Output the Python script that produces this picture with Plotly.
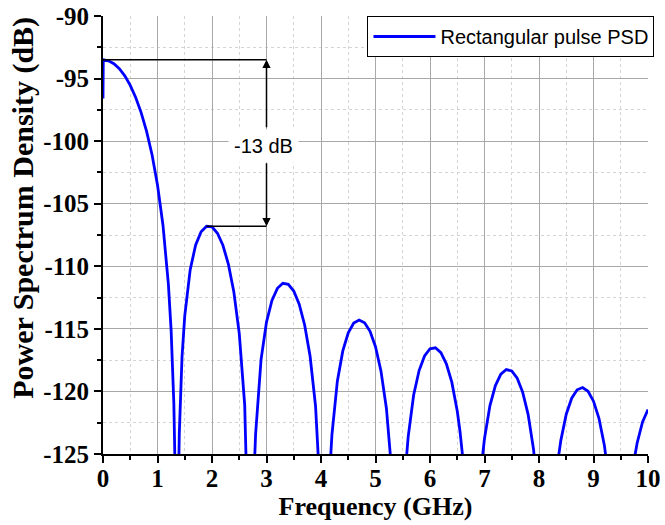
import plotly.graph_objects as go

# Frequency samples (GHz) and PSD values (dB)
freq_ghz = [
    0, 0.005, 0.1, 0.2, 0.3, 0.4, 0.5, 0.6, 0.7, 0.8, 0.9, 1.0, 1.1, 1.15, 1.2, 1.25, 1.3,
    1.33, 1.355, 1.38, 1.4, 1.45, 1.5, 1.6, 1.7, 1.8, 1.9, 2.0, 2.1, 2.2, 2.3, 2.4, 2.5, 2.6,
    2.65, 2.71, 2.77, 2.8, 2.9, 3.0, 3.1, 3.2, 3.3, 3.4, 3.5, 3.6, 3.7, 3.8, 3.9, 3.95, 4.0,
    4.065, 4.1, 4.15, 4.2, 4.3, 4.4, 4.5, 4.6, 4.7, 4.8, 4.9, 5.0, 5.1, 5.2, 5.25, 5.3,
    5.42, 5.5, 5.55, 5.6, 5.7, 5.8, 5.9, 6.0, 6.1, 6.2, 6.3, 6.4, 6.5, 6.55, 6.6, 6.7,
    6.775, 6.85, 6.9, 6.95, 7.0, 7.1, 7.2, 7.3, 7.4, 7.5, 7.6, 7.7, 7.8, 7.9, 8.0,
    8.13, 8.25, 8.3, 8.35, 8.4, 8.5, 8.6, 8.7, 8.8, 8.9, 9.0, 9.1, 9.2, 9.3, 9.4,
    9.485, 9.6, 9.7, 9.75, 9.8, 9.9, 10.0,
]
psd_db = [
    -96.6, -93.5, -93.58, -93.81, -94.21, -94.78, -95.54, -96.51, -97.72, -99.22, -101.09,
    -103.50, -106.70, -108.80, -111.45, -115.12, -120.99,
    -128.0, -140.0, -128.35, -123.37, -117.25, -113.96, -110.27, -108.30, -107.24, -106.80,
    -106.85, -107.36, -108.32, -109.82, -112.03, -115.36, -121.07,
    -126.43, -140.0, -126.82, -123.42, -117.46, -114.46, -112.73, -111.76, -111.36, -111.44,
    -111.98, -113.03, -114.69, -117.19, -121.18, -124.32, -129.31,
    -140.0, -134.9, -127.33, -123.50, -119.18, -116.76, -115.32, -114.54, -114.29, -114.51,
    -115.20, -116.43, -118.36, -121.34, -123.52, -126.51,
    -140.0, -130.30, -126.24, -123.61, -120.29, -118.33, -117.16, -116.59, -116.51, -116.90,
    -117.79, -119.26, -121.56, -123.17, -125.25, -132.56,
    -140.0, -132.77, -128.46, -125.72, -123.76, -121.13, -119.53, -118.62, -118.25, -118.36,
    -118.94, -120.05, -121.83, -124.63, -129.41,
    -140.0, -130.36, -127.50, -125.47, -123.93, -121.82, -120.54, -119.87, -119.69, -119.99,
    -120.78, -122.15, -124.31, -127.77, -134.41,
    -140.0, -132.04, -126.95, -125.37, -124.14, -122.44, -121.44,
]

series_name = "Rectangular pulse PSD"
x_title = "Frequency (GHz)"
y_title = "Power Spectrum Density (dB)"
x_ticks = [0, 1, 2, 3, 4, 5, 6, 7, 8, 9, 10]
y_ticks = [-90, -95, -100, -105, -110, -115, -120, -125]
annot_text = "-13 dB"
annot_x = 3.0

# levels for the -13 dB annotation, taken from the data
main_peak = max(psd_db)
side_idx = [i for i, f in enumerate(freq_ghz) if 1.5 <= f <= 2.6]
side_peak_i = max(side_idx, key=lambda i: psd_db[i])
side_peak = psd_db[side_peak_i]
side_peak_f = freq_ghz[side_peak_i]

fig = go.Figure()
fig.add_trace(go.Scatter(
    x=freq_ghz, y=psd_db, mode="lines", name=series_name,
    line=dict(color="#0000ff", width=2.8),
))

serif_bold = dict(family="Liberation Serif", size=25, color="black", weight="bold")

fig.update_layout(
    width=665, height=525,
    margin=dict(l=103, r=15.5, t=16, b=71),
    paper_bgcolor="white", plot_bgcolor="white",
    showlegend=True,
    legend=dict(
        x=1.01, y=1.0, xanchor="right", yanchor="top",
        bordercolor="black", borderwidth=1, bgcolor="white",
        font=dict(family="Liberation Sans", size=20, color="black"),
        itemwidth=62,
    ),
    xaxis=dict(
        range=[0, 10], tickvals=x_ticks, ticktext=[str(v) for v in x_ticks],
        automargin=False,
        showline=True, linecolor="black", linewidth=2,
        ticks="outside", ticklen=7, tickwidth=1.5, tickcolor="black",
        tickfont=serif_bold, ticklabelstandoff=-6,
        showgrid=True, gridcolor="#a8a8a8", gridwidth=1,
        zeroline=False,
        minor=dict(dtick=0.5, ticks="outside", ticklen=4, tickwidth=1.5, tickcolor="black",
                   showgrid=True, gridcolor="#d4d4d4", griddash="dot", gridwidth=1),
        title=dict(text=x_title, font=dict(family="Liberation Serif", size=26,
                                           color="black", weight="bold"), standoff=4),
    ),
    yaxis=dict(
        range=[-125, -90], tickvals=y_ticks, ticktext=[str(v) for v in y_ticks],
        automargin=False,
        showline=True, linecolor="black", linewidth=2,
        ticks="outside", ticklen=7, tickwidth=1.5, tickcolor="black",
        tickfont=serif_bold,
        showgrid=True, gridcolor="#a8a8a8", gridwidth=1,
        zeroline=False,
        minor=dict(dtick=2.5, ticks="outside", ticklen=4, tickwidth=1.5, tickcolor="black",
                   showgrid=True, gridcolor="#d4d4d4", griddash="dot", gridwidth=1),
    ),
)

# y-axis title placed as in the reference (centred a little above the plot middle)
fig.add_annotation(text=y_title, xref="paper", yref="paper", x=-0.146, y=0.563,
                   xanchor="center", yanchor="middle", textangle=-90, showarrow=False,
                   font=dict(family="Liberation Serif", size=30, color="black", weight="bold"))

# horizontal reference lines at the two peak levels
fig.add_shape(type="line", xref="x", yref="y", x0=0, x1=annot_x, y0=main_peak, y1=main_peak,
              line=dict(color="black", width=1.5))
fig.add_shape(type="line", xref="x", yref="y", x0=side_peak_f, x1=annot_x, y0=side_peak, y1=side_peak,
              line=dict(color="black", width=1.5))

# arrows
fig.add_annotation(x=annot_x, y=main_peak, ax=annot_x, ay=-99.0, xref="x", yref="y",
                   axref="x", ayref="y", text="", showarrow=True, arrowhead=2,
                   arrowsize=1.1, arrowwidth=1.5, arrowcolor="black")
fig.add_annotation(x=annot_x, y=side_peak, ax=annot_x, ay=-101.65, xref="x", yref="y",
                   axref="x", ayref="y", text="", showarrow=True, arrowhead=2,
                   arrowsize=1.1, arrowwidth=1.5, arrowcolor="black")
fig.add_annotation(x=2.95, y=-100.35, xref="x", yref="y", text=annot_text, showarrow=False,
                   bgcolor="white", borderpad=5,
                   font=dict(family="Liberation Sans", size=20, color="black"))

fig.write_html("out.html")
